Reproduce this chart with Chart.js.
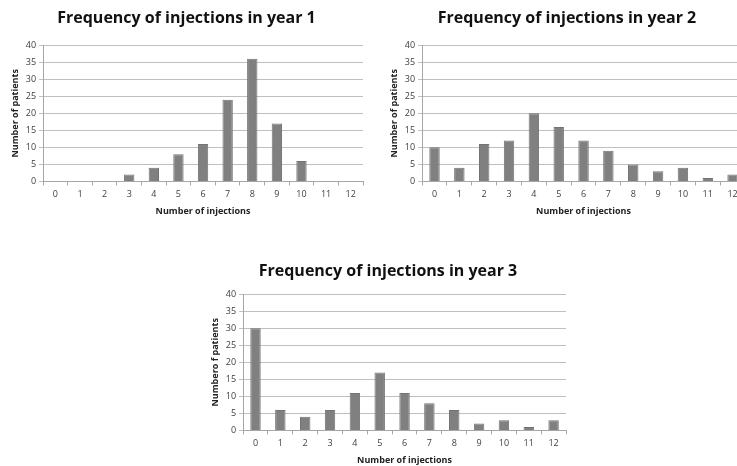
<!DOCTYPE html>
<html lang="en">
<head>
    <meta charset="UTF-8">
    <title>Frequency of injections</title>
    <script src="https://cdn.jsdelivr.net/npm/chart.js"></script>
    <style>
        body {
            margin: 0;
            width: 737px;
            height: 466px;
            overflow: hidden;
            background: #ffffff;
            position: relative;
        }
        .box {
            position: absolute;
        }
        #box1 { left: 0px; top: 0px; width: 370px; height: 222px; }
        #box2 { left: 379px; top: 0px; width: 370px; height: 222px; }
        #box3 { left: 200px; top: 250px; width: 372px; height: 216px; }
    </style>
</head>
<body>
    <div class="box" id="box1"><canvas id="chart1"></canvas></div>
    <div class="box" id="box2"><canvas id="chart2"></canvas></div>
    <div class="box" id="box3"><canvas id="chart3"></canvas></div>

    <script>
        // number of injections (x categories)
        const injections = ['0', '1', '2', '3', '4', '5', '6', '7', '8', '9', '10', '11', '12'];

        // number of patients per year
        const year1 = [0, 0, 0, 2, 4, 8, 11, 24, 36, 17, 6, 0, 0];
        const year2 = [10, 4, 11, 12, 20, 16, 12, 9, 5, 3, 4, 1, 2];
        const year3 = [30, 6, 4, 6, 11, 17, 11, 8, 6, 2, 3, 1, 3];

        const titles = [
            'Frequency of injections in year 1',
            'Frequency of injections in year 2',
            'Frequency of injections in year 3'
        ];
        const yTitles = ['Number of patients', 'Number of patients', 'Numbero f patients'];
        const xTitle = 'Number of injections';

        const fontFamily = '"Open Sans", Arial, sans-serif';

        function makeChart(id, values, title, yTitle, pad, titlePad) {
            const ctx = document.getElementById(id).getContext('2d');
            return new Chart(ctx, {
                type: 'bar',
                data: {
                    labels: injections,
                    datasets: [{
                        data: values,
                        backgroundColor: '#808080',
                        borderColor: '#737373',
                        borderWidth: 1,
                        barPercentage: 0.42,
                        categoryPercentage: 1.0
                    }]
                },
                options: {
                    responsive: true,
                    maintainAspectRatio: false,
                    animation: false,
                    layout: { padding: pad },
                    plugins: {
                        legend: { display: false },
                        tooltip: { enabled: false },
                        title: {
                            display: true,
                            text: title,
                            color: '#111111',
                            font: { family: fontFamily, size: 16, weight: 'bold' },
                            padding: titlePad
                        }
                    },
                    scales: {
                        x: {
                            grid: {
                                offset: true,
                                drawOnChartArea: false,
                                drawTicks: true,
                                tickLength: 4,
                                color: '#a6a6a6'
                            },
                            border: { color: '#a6a6a6' },
                            ticks: {
                                color: '#404040',
                                font: { family: fontFamily, size: 9 },
                                padding: 4,
                                maxRotation: 0,
                                autoSkip: false
                            },
                            title: {
                                display: true,
                                text: xTitle,
                                color: '#222222',
                                font: { family: fontFamily, size: 9, weight: 'bold' },
                                padding: { top: 2, bottom: 0 }
                            }
                        },
                        y: {
                            min: 0,
                            max: 40,
                            ticks: {
                                stepSize: 5,
                                color: '#404040',
                                font: { family: fontFamily, size: 9 },
                                padding: 3
                            },
                            grid: {
                                color: '#bfbfbf',
                                tickLength: 4
                            },
                            border: { color: '#a6a6a6' },
                            title: {
                                display: true,
                                text: yTitle,
                                color: '#222222',
                                font: { family: fontFamily, size: 9, weight: 'bold' },
                                padding: { top: 0, bottom: 2 }
                            }
                        }
                    }
                }
            });
        }

        makeChart('chart1', year1, titles[0], yTitles[0],
            { left: 10, right: 7, top: 0, bottom: 5 }, { top: 9, bottom: 17 });
        makeChart('chart2', year2, titles[1], yTitles[1],
            { left: 10, right: 4, top: 0, bottom: 5 }, { top: 9, bottom: 17 });
        makeChart('chart3', year3, titles[2], yTitles[2],
            { left: 10, right: 6, top: 0, bottom: 0 }, { top: 12, bottom: 13 });
    </script>
</body>
</html>
